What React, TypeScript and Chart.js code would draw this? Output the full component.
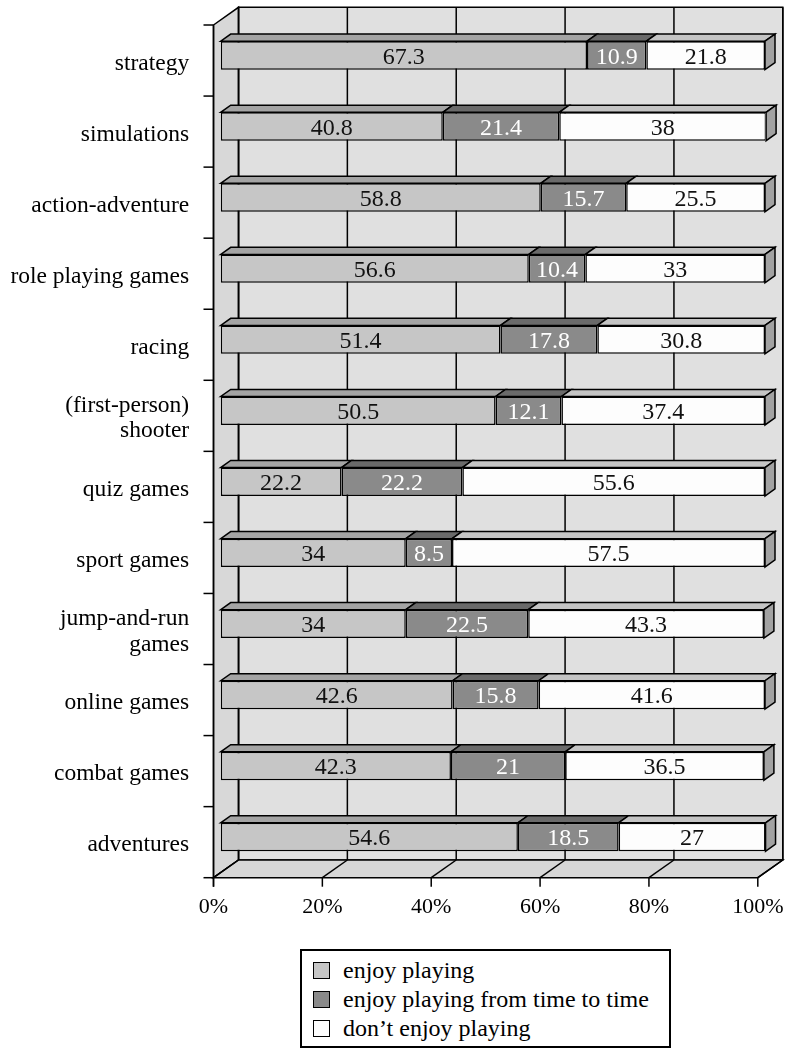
import { useEffect, useRef } from 'react';
import { Chart, registerables } from 'chart.js';

Chart.register(...registerables);

// Genres, top to bottom
const categories: (string | string[])[] = [
  'strategy',
  'simulations',
  'action-adventure',
  'role playing games',
  'racing',
  ['(first-person)', 'shooter'],
  'quiz games',
  'sport games',
  ['jump-and-run', 'games'],
  'online games',
  'combat games',
  'adventures',
];

// Shares of respondents (%)
const enjoyPlaying = [67.3, 40.8, 58.8, 56.6, 51.4, 50.5, 22.2, 34, 34, 42.6, 42.3, 54.6];
const enjoyTimeToTime = [10.9, 21.4, 15.7, 10.4, 17.8, 12.1, 22.2, 8.5, 22.5, 15.8, 21, 18.5];
const dontEnjoy = [21.8, 38, 25.5, 33, 30.8, 37.4, 55.6, 57.5, 43.3, 41.6, 36.5, 27];

const seriesNames = ['enjoy playing', 'enjoy playing from time to time', 'don’t enjoy playing'];
const xTickValues = [0, 20, 40, 60, 80, 100];

// Appearance
const FONT = '"Liberation Serif", "Times New Roman", serif';
const faceColors = ['#c6c6c6', '#8a8a8a', '#fdfdfd'];
const topColors = ['#a4a4a4', '#6a6a6a', '#c4c4c4'];
const sideColor = '#a2a2a2';
const valueColors = ['#111', '#fff', '#111'];
const wallColor = '#e0e0e0';
const sideWallColor = '#d8d8d8';
const floorColor = '#d6d6d6';

// 3D offsets relative to the bar front plane (px)
const FRONT = { dx: -7.2, dy: 5.1 };
const BACK = { dx: 17.8, dy: -12.6 };
const BAR_DEPTH = { dx: 10, dy: -7.1 };

function poly(ctx: CanvasRenderingContext2D, pts: number[][], fill: string) {
  ctx.beginPath();
  ctx.moveTo(pts[0][0], pts[0][1]);
  for (let i = 1; i < pts.length; i++) ctx.lineTo(pts[i][0], pts[i][1]);
  ctx.closePath();
  ctx.fillStyle = fill;
  ctx.fill();
  ctx.stroke();
}

function line(ctx: CanvasRenderingContext2D, x1: number, y1: number, x2: number, y2: number) {
  ctx.beginPath();
  ctx.moveTo(x1, y1);
  ctx.lineTo(x2, y2);
  ctx.stroke();
}

const boxPlugin = {
  id: 'box3d',
  beforeDraw(chart: any) {
    const { ctx, scales } = chart;
    const xs = scales.x;
    const ys = scales.y;
    const x0 = xs.getPixelForValue(0);
    const x100 = xs.getPixelForValue(100);
    const band = ys.getPixelForValue(1) - ys.getPixelForValue(0);
    const top = ys.getPixelForValue(0) - band / 2;
    const bot = ys.getPixelForValue(categories.length - 1) + band / 2;

    const fx0 = x0 + FRONT.dx, fx100 = x100 + FRONT.dx;
    const ftop = top + FRONT.dy, fbot = bot + FRONT.dy;
    const bx0 = x0 + BACK.dx, bx100 = x100 + BACK.dx;
    const btop = top + BACK.dy, bbot = bot + BACK.dy;

    ctx.save();
    ctx.strokeStyle = '#000';
    ctx.lineWidth = 1.5;
    ctx.lineJoin = 'miter';

    // back wall
    poly(ctx, [[bx0, btop], [bx100, btop], [bx100, bbot], [bx0, bbot]], wallColor);
    // left wall
    poly(ctx, [[fx0, ftop], [bx0, btop], [bx0, bbot], [fx0, fbot]], sideWallColor);
    // floor
    poly(ctx, [[fx0, fbot], [fx100, fbot], [bx100, bbot], [bx0, bbot]], floorColor);

    // grid on back wall and floor
    for (const v of xTickValues) {
      const px = xs.getPixelForValue(v);
      line(ctx, px + BACK.dx, btop, px + BACK.dx, bbot);
      line(ctx, px + FRONT.dx, fbot, px + BACK.dx, bbot);
      // tick mark under the floor edge
      line(ctx, px + FRONT.dx, fbot, px + FRONT.dx, fbot + 9);
    }

    // value axis line and category boundary ticks
    line(ctx, fx0, ftop, fx0, fbot + 9);
    for (let i = 0; i <= categories.length; i++) {
      const py = top + i * band + FRONT.dy;
      line(ctx, fx0 - 10, py, fx0, py);
    }
    ctx.restore();
  },
  afterDatasetsDraw(chart: any) {
    const { ctx } = chart;
    const n = chart.data.datasets.length;
    ctx.save();
    ctx.strokeStyle = '#000';
    ctx.lineWidth = 1.5;
    ctx.lineJoin = 'miter';
    for (let d = 0; d < n; d++) {
      const meta = chart.getDatasetMeta(d);
      meta.data.forEach((bar: any) => {
        const { x, y, base, height } = bar.getProps(['x', 'y', 'base', 'height'], true);
        const t = y - height / 2;
        const b = y + height / 2;
        poly(ctx, [[base, t], [x, t], [x + BAR_DEPTH.dx, t + BAR_DEPTH.dy], [base + BAR_DEPTH.dx, t + BAR_DEPTH.dy]], topColors[d]);
        if (d === n - 1) {
          poly(ctx, [[x, t], [x + BAR_DEPTH.dx, t + BAR_DEPTH.dy], [x + BAR_DEPTH.dx, b + BAR_DEPTH.dy], [x, b]], sideColor);
        }
      });
    }
    // value labels centred on each front face
    ctx.font = `24px ${FONT}`;
    ctx.textAlign = 'center';
    ctx.textBaseline = 'middle';
    for (let d = 0; d < n; d++) {
      const meta = chart.getDatasetMeta(d);
      const values = chart.data.datasets[d].data as number[];
      meta.data.forEach((bar: any, i: number) => {
        const { x, y, base } = bar.getProps(['x', 'y', 'base'], true);
        ctx.fillStyle = valueColors[d];
        ctx.fillText(String(values[i]), (x + base) / 2, y + 2);
      });
    }
    ctx.restore();
  },
};

export default function App() {
  const canvasRef = useRef<HTMLCanvasElement | null>(null);

  useEffect(() => {
    const canvas = canvasRef.current;
    if (!canvas) return;
    const series = [enjoyPlaying, enjoyTimeToTime, dontEnjoy];
    const chart = new Chart(canvas, {
      type: 'bar',
      data: {
        labels: categories as any,
        datasets: series.map((data, i) => ({
          label: seriesNames[i],
          data,
          backgroundColor: faceColors[i],
          borderColor: '#000',
          borderWidth: 1.5,
          borderSkipped: false,
          barPercentage: 0.4,
          categoryPercentage: 1,
        })),
      },
      options: {
        indexAxis: 'y',
        responsive: false,
        animation: false,
        events: [],
        layout: { padding: { left: 0, top: 19.9, right: 20, bottom: 118.4 } },
        plugins: { legend: { display: false }, tooltip: { enabled: false } },
        scales: {
          x: {
            stacked: true,
            min: 0,
            max: 100,
            grid: { display: false, drawTicks: false },
            border: { display: false },
            afterBuildTicks: (axis: any) => {
              axis.ticks = xTickValues.map((v) => ({ value: v }));
            },
            afterFit: (axis: any) => {
              axis.height = 60;
              axis.paddingLeft = 0;
              axis.paddingRight = 0;
              axis.paddingTop = 0;
              axis.paddingBottom = 0;
            },
            ticks: {
              color: '#000',
              padding: 21,
              labelOffset: -7.2,
              maxRotation: 0,
              font: { family: FONT, size: 22 },
              callback: (v: any) => `${v}%`,
            },
          },
          y: {
            stacked: true,
            grid: { display: false, drawTicks: false },
            border: { display: false },
            afterFit: (axis: any) => {
              axis.width = 220.7;
              axis.paddingLeft = 0;
              axis.paddingRight = 0;
              axis.paddingTop = 0;
              axis.paddingBottom = 0;
            },
            ticks: {
              color: '#000',
              padding: 31.5,
              labelOffset: 8,
              autoSkip: false,
              font: { family: FONT, size: 23.5, lineHeight: 1.07 },
            },
          },
        },
      },
      plugins: [boxPlugin],
    });
    return () => chart.destroy();
  }, []);

  return (
    <div style={{ position: 'absolute', left: 0, top: 0, width: 785, height: 1051, background: '#fff' }}>
      <canvas ref={canvasRef} width={785} height={1051} style={{ position: 'absolute', left: 0, top: 0 }} />
      <div
        style={{
          position: 'absolute',
          left: 300,
          top: 949,
          width: 371,
          height: 99,
          boxSizing: 'border-box',
          border: '2px solid #000',
          background: '#fff',
          fontFamily: FONT,
          fontSize: 24,
          color: '#000',
        }}
      >
        {seriesNames.map((name, i) => (
          <div
            key={name}
            style={{
              position: 'absolute',
              left: 11,
              top: 4.5 + i * 29,
              height: 29,
              display: 'flex',
              alignItems: 'center',
              whiteSpace: 'nowrap',
            }}
          >
            <span
              style={{
                display: 'inline-block',
                width: 17,
                height: 17,
                boxSizing: 'border-box',
                border: '1.5px solid #000',
                background: faceColors[i],
                marginRight: 13,
              }}
            />
            <span style={{ lineHeight: '29px' }}>{name}</span>
          </div>
        ))}
      </div>
    </div>
  );
}
